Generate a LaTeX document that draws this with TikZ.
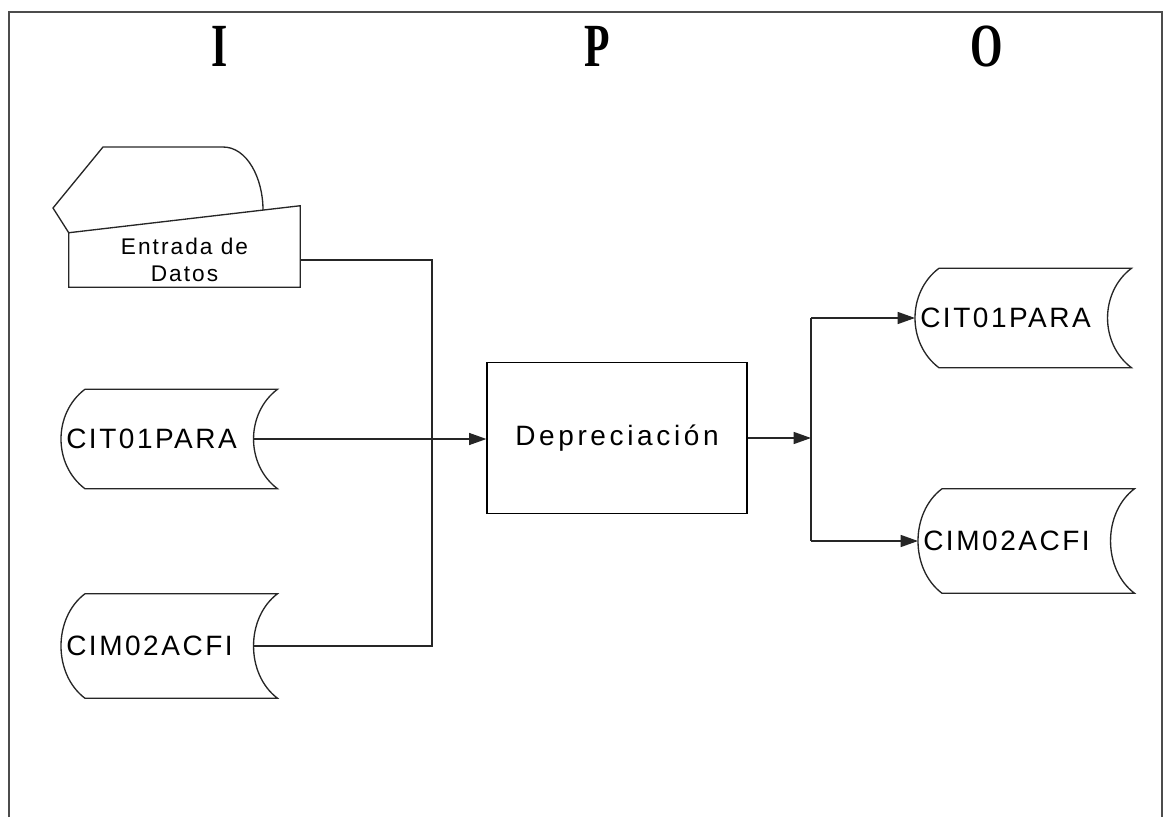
\documentclass[tikz,border=0pt]{standalone}
\usepackage{fontspec}
\setmainfont{Liberation Sans}
\newfontfamily\labelfont[LetterSpace=9]{Liberation Sans}
\newfontfamily\proclabelfont[LetterSpace=13]{Liberation Sans}
\newfontfamily\ipofont{Liberation Serif}
\usetikzlibrary{positioning,calc,arrows.meta}
\tikzset{
	datafile/.style={anchor=west,inner xsep=3.75pt,inner ysep=0pt,text width=154.5pt,align=left,
		minimum height=74.25pt,font=\labelfont\fontsize{21}{24}\selectfont},
	procbox/.style={draw=black,line width=0.9pt,minimum width=195pt,minimum height=113.25pt,
		font=\proclabelfont\fontsize{21}{24}\selectfont},
	ipo/.style={font=\ipofont\bfseries\fontsize{46}{50}\selectfont},
	line/.style={draw=black!85,line width=1pt},
	arr/.style={line,-{Triangle[length=13pt,width=9pt]}},
	frame/.style={draw=black!70,line width=1.1pt},
}
% outline of a stored data file round a named node
\newcommand{\fileoutline}[1]{%
	\draw[line] ([xshift=18pt]#1.north west) -- (#1.north east)
		.. controls +(-24pt,-18pt) and +(-24pt,18pt) .. (#1.south east)
		-- ([xshift=18pt]#1.south west)
		.. controls +(-24pt,18pt) and +(-24pt,-18pt) .. ([xshift=18pt]#1.north west);}

\begin{document}
\begin{tikzpicture}[x=0.75pt,y=-0.75pt]
	\useasboundingbox (0,0) rectangle (1163,817);
	\draw[frame] (9,817) -- (9,12) -- (1162,12) -- (1162,817);

	% column heads
	\node[ipo] (headI) at (220,46) {\scalebox{0.68}[1]{I}};
	\node[ipo] (headP) at (597,46) {\scalebox{0.68}[1]{P}};
	\node[ipo] (headO) at (987,46) {\scalebox{0.68}[1]{O}};

	% input
	\node[inner sep=0pt,minimum width=173.25pt,minimum height=40.5pt,align=center,
		font=\labelfont\fontsize{17}{20.25}\selectfont] (entrada) at (184.5,260) {Entrada de\\Datos};
	\draw[line] (entrada.north west) -- (53,208) -- (103,147) -- (223,147)
		.. controls (247,147) and (263,178) .. (263,210);
	\draw[line] (entrada.north west) -- ([yshift=20.25pt]entrada.north east)
		-- (entrada.south east) -- (entrada.south west) -- cycle;

	\node[datafile] (inCit) at (61,439) {CIT01PARA};
	\node[datafile,minimum height=78pt] (inCim) at (61,646) {CIM02ACFI};
	\fileoutline{inCit}
	\fileoutline{inCim}

	% process
	\node[procbox] (proc) at (617,438) {Depreciación};

	% output
	\node[datafile] (outCit) at (915,318) {CIT01PARA};
	\node[datafile,minimum height=78pt] (outCim) at (918,541) {CIM02ACFI};
	\fileoutline{outCit}
	\fileoutline{outCim}

	% connectors
	\coordinate (bus) at (432,439);
	\coordinate (split) at (811,438);
	\draw[line] (entrada.east) -| (bus |- inCim.east) -- ($(inCim.east)+(-24,0)$);
	\draw[arr] ($(inCit.east)+(-24,0)$) -- (inCit.east -| proc.west);
	\draw[arr] (proc.east) -- (split);
	\draw[line] (split |- outCit.west) -- (split |- outCim.west);
	\draw[arr] (split |- outCit.west) -- (outCit.west);
	\draw[arr] (split |- outCim.west) -- (outCim.west);
\end{tikzpicture}
\end{document}
